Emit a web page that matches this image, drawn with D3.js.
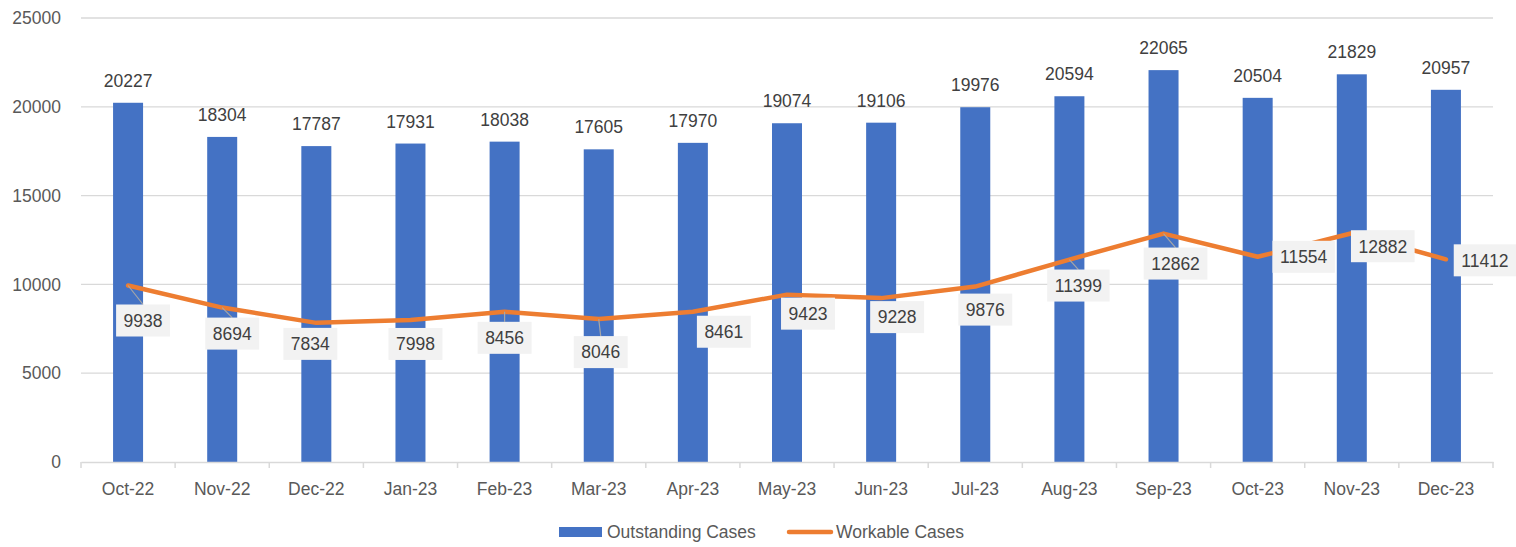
<!DOCTYPE html>
<html>
<head>
<meta charset="utf-8">
<script src="https://cdn.jsdelivr.net/npm/d3@7"></script>
<style>
  html, body { margin: 0; padding: 0; background: #ffffff; }
  svg { display: block; font-family: "Liberation Sans", Arial, sans-serif; }
</style>
</head>
<body>
<svg id="chart" width="1516" height="547"></svg>
<script>
// ---- data ----
const categories = ["Oct-22","Nov-22","Dec-22","Jan-23","Feb-23","Mar-23","Apr-23","May-23","Jun-23","Jul-23","Aug-23","Sep-23","Oct-23","Nov-23","Dec-23"];
const outstandingCases = [20227,18304,17787,17931,18038,17605,17970,19074,19106,19976,20594,22065,20504,21829,20957];
const workableCases = [9938,8694,7834,7998,8456,8046,8461,9423,9228,9876,11399,12862,11554,12882,11412];
const yTicks = [0,5000,10000,15000,20000,25000];
const seriesNames = ["Outstanding Cases","Workable Cases"];

// label placement offsets (layout only): box centre relative to point
const workLabelDx = [15,10,-6,5,0,2,31,21,16,10,9,12,46,31,39];
const workLabelDy = [35,26,21,24,26,33,20,19,19,23,26,30,0,13,1];

// ---- layout ----
const svg = d3.select("#chart");
const plotL = 81, plotR = 1493, plotT = 18, plotB = 462;
const blue = "#4472C4", orange = "#ED7D31", grid = "#d9d9d9";
const fs = 17.5;

const x = d3.scaleBand().domain(categories).range([plotL, plotR]).paddingInner(0).paddingOuter(0);
const y = d3.scaleLinear().domain([0, 25000]).range([plotB, plotT]);
const barW = 30;

// gridlines
svg.append("g").selectAll("line").data(yTicks.filter(t => t > 0)).join("line")
  .attr("x1", plotL).attr("x2", plotR)
  .attr("y1", d => y(d)).attr("y2", d => y(d))
  .attr("stroke", grid).attr("stroke-width", 1.3);

// y axis labels
svg.append("g").selectAll("text").data(yTicks).join("text")
  .attr("x", 61).attr("y", d => y(d)).attr("dy", "0.35em")
  .attr("text-anchor", "end").attr("font-size", fs).attr("fill", "#595959")
  .text(d => d);

// bars
svg.append("g").selectAll("rect").data(outstandingCases).join("rect")
  .attr("x", (d, i) => x(categories[i]) + x.bandwidth() / 2 - barW / 2)
  .attr("width", barW)
  .attr("y", d => y(d))
  .attr("height", d => y(0) - y(d))
  .attr("fill", blue);

// x axis
const xAxis = d3.axisBottom(x).tickSize(0).tickPadding(0).tickFormat("");
const gx = svg.append("g").attr("transform", `translate(0,${plotB})`).call(xAxis);
gx.select(".domain").attr("stroke", grid).attr("stroke-width", 1.5);
const boundaries = categories.map(c => x(c)).concat([plotR]);
svg.append("g").selectAll("line").data(boundaries).join("line")
  .attr("x1", d => d).attr("x2", d => d)
  .attr("y1", plotB).attr("y2", plotB + 6)
  .attr("stroke", grid).attr("stroke-width", 1.5);
svg.append("g").selectAll("text").data(categories).join("text")
  .attr("x", d => x(d) + x.bandwidth() / 2).attr("y", 495)
  .attr("text-anchor", "middle").attr("font-size", fs).attr("fill", "#595959")
  .text(d => d);

// bar labels
svg.append("g").selectAll("text").data(outstandingCases).join("text")
  .attr("x", (d, i) => x(categories[i]) + x.bandwidth() / 2)
  .attr("y", d => y(d) - 16)
  .attr("text-anchor", "middle").attr("font-size", fs).attr("fill", "#404040")
  .text(d => d);

// line
const px = i => x(categories[i]) + x.bandwidth() / 2;
const line = d3.line().x((d, i) => px(i)).y(d => y(d));
svg.append("path").datum(workableCases)
  .attr("d", line).attr("fill", "none")
  .attr("stroke", orange).attr("stroke-width", 4.5)
  .attr("stroke-linejoin", "round").attr("stroke-linecap", "round");

// line labels: leader lines + boxes
const boxH = 32;
const lbl = svg.append("g");
workableCases.forEach((v, i) => {
  const cx = px(i) + workLabelDx[i], cy = y(v) + workLabelDy[i];
  const t = lbl.append("text").attr("x", cx).attr("y", cy).attr("dy", "0.36em")
    .attr("text-anchor", "middle").attr("font-size", fs).attr("fill", "#404040").text(v);
  const w = t.node().getComputedTextLength() + 15;
  const boxTop = cy - boxH / 2;
  if (boxTop - y(v) > 8) {
    lbl.insert("line", "text").attr("x1", px(i)).attr("y1", y(v)).attr("x2", cx).attr("y2", boxTop)
      .attr("stroke", "#a6a6a6").attr("stroke-width", 1.2);
  }
  lbl.insert("rect", "text").attr("x", cx - w / 2).attr("y", boxTop).attr("width", w).attr("height", boxH)
    .attr("fill", "#f2f2f2");
  t.raise();
});

// legend
const lg = svg.append("g");
lg.append("rect").attr("x", 559).attr("y", 527).attr("width", 43).attr("height", 10).attr("fill", blue);
lg.append("text").attr("x", 607).attr("y", 537.5).attr("font-size", fs).attr("fill", "#595959").text(seriesNames[0]);
lg.append("line").attr("x1", 789).attr("x2", 831).attr("y1", 532).attr("y2", 532)
  .attr("stroke", orange).attr("stroke-width", 4.5).attr("stroke-linecap", "round");
lg.append("text").attr("x", 836).attr("y", 537.5).attr("font-size", fs).attr("fill", "#595959").text(seriesNames[1]);
</script>
</body>
</html>
